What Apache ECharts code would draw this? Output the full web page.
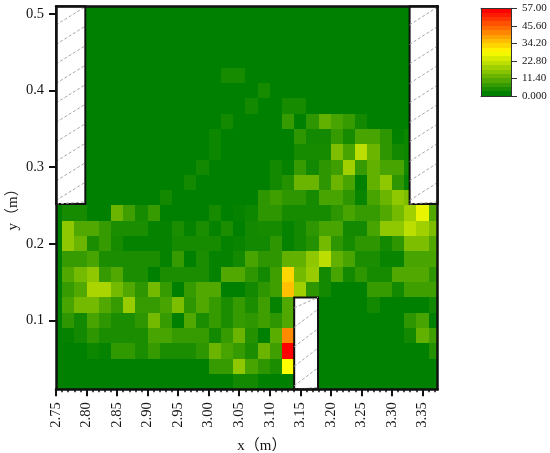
<!DOCTYPE html>
<html>
<head>
<meta charset="utf-8">
<script src="https://cdn.jsdelivr.net/npm/echarts@6/dist/echarts.min.js"></script>
<style>
  html, body { margin: 0; padding: 0; background: #fff; }
  #chart { width: 550px; height: 453px; }
</style>
</head>
<body>
<div id="chart"></div>
<script>
// cell centres; the first and last columns get clipped by the axis range
const xCenters = [2.75, 2.77, 2.79, 2.81, 2.83, 2.85, 2.87, 2.89, 2.91, 2.93, 2.95, 2.97, 2.99, 3.01, 3.03, 3.05, 3.07, 3.09, 3.11, 3.13, 3.15, 3.17, 3.19, 3.21, 3.23, 3.25, 3.27, 3.29, 3.31, 3.33, 3.35, 3.37];
const yCenters = [0.02, 0.04, 0.06, 0.08, 0.10, 0.12, 0.14, 0.16, 0.18, 0.20, 0.22, 0.24, 0.26, 0.28, 0.30, 0.32, 0.34, 0.36, 0.38, 0.40, 0.42, 0.44, 0.46, 0.48, 0.50];

// one array per row, bottom row first
const row002 = [0,0,0,0,0,0,0,0,0,0,0,0,0,0,0,2,2,0,0,0,0,0,0,0,0,0,0,0,0,0,0,0];
const row004 = [0,0,0,0,0,0,0,0,0,0,0,0,0,6,6,16,8,5,3,28.5,0,0,0,0,0,0,0,0,0,0,0,0];
const row006 = [0,0,0,1.5,0.5,5.5,5.5,3,6,3,3,3,5,12,8,6,3,12,7,57,0,0,0,0,0,0,0,0,0,0,0,4];
const row008 = [0,0.5,2,5,3,3,3,3,8,8,6,6,6,2,6,12,4,0,10,41.6,0,0,0,0,0,0,0,0,0,2,11,7];
const row010 = [0,5,2,8,5,3,3,5,13,6,0,9,3,6,3,6,5,7,5,9,0,0,0,0,0,0,0,0,0,5,8,0];
const row012 = [0,8,13,13,9,6,17,6,6,8,14,5,9,6,3,6,3,7,0.5,9,0,0,0,0,0,0,2,0,0,0,0,2];
const row014 = [0,6,9,19,19,13,9,5,13,6,0,6,9,9,0,0,2,5,7,35.5,18,5,2,0,0,0,6,6,2,7,7,7];
const row016 = [0,9,13,16,6,9,3,3,0,3,3,3,3,0.5,9,9,5,2,7,33,13,17,2,8,2,5,2.5,2.5,9,9,9,5];
const row018 = [0,6,6,8,3,3,3,3,3,0.5,6,0,3,0.5,0.5,2,8,5,5,11,11,16,21,11,8,3,3,1,1,8,8,8];
const row020 = [0,16,12,3,6,2.5,0.5,0.5,0.5,0.5,2.5,2.5,2.5,2.5,0.5,1,2,2,5,0.5,2,4,13,5,2.5,5,5,2,5,14,14,9];
const row022 = [0,16,9,9,6,3,3,3,0.5,0.5,3,0.5,3,0.5,3,0,2,2.5,2.5,0.5,2,5,8,8,2,2,8,16,16,21,18,14];
const row024 = [0,2.5,2.5,0,0,12,7,2.5,6,0,0,0,0,2.5,0,0.5,1.5,5,5,2.5,2.5,2.5,2.5,5,8,6,6,9,13,18,26,9];
const row026 = [0,0,0,0,0,0,0,0,0,2,0,0,0,0,0,0,0,5,7,5,5,2.5,8,8,5,1,8,12,16,14,0,0];
const row028 = [0,0,0,0,0,0,0,0,0,0,0,2,0,0,0,0,0,0,2,4,12,12,5,12,8,0,11,16,5,1,0,0];
const row030 = [0,0,0,0,0,0,0,0,0,0,0,0,2,0,0,0,0,0,2,0.5,6,2,5,7,18,6,11,8,8,2,0,0];
const row032 = [0,0,0,0,0,0,0,0,0,0,0,0,0,1.5,0,0,0,0,0,0,2.5,2.5,2.5,14,8,21,12,5,2,1.5,0,0];
const row034 = [0,0,0,0,0,0,0,0,0,0,0,0,0,1.5,0,0,0,0,0,0,5,2,2,6,2.5,8,8,5,0.3,1.5,0,0];
const row036 = [0,0,0,0,0,0,0,0,0,0,0,0,0,0,2,0,0,0,0,6,0,5,11,8,6,2,0,0,0,0,0,0];
const row038 = [0,0,0,0,0,0,0,0,0,0,0,0,0,0,0,0,2,0,0,2.5,2.5,0,0,0,0,0,0,0,0,0,0,0];
const row040 = [0,0,0,0,0,0,0,0,0,0,0,0,0,0,0,0,0,2.5,0,0,0,0,0,0,0,0,0,0,0,0,0,0];
const row042 = [0,0,0,0,0,0,0,0,0,0,0,0,0,0,2.5,2.5,0,0,0,0,0,0,0,0,0,0,0,0,0,0,0,0];
const row044 = [0,0,0,0,0,0,0,0,0,0,0,0,0,0,0,0,0,0,0,0,0,0,0,0,0,0,0,0,0,0,0,0];
const row046 = [0,0,0,0,0,0,0,0,0,0,0,0,0,0,0,0,0,0,0,0,0,0,0,0,0,0,0,0,0,0,0,0];
const row048 = [0,0,0,0,0,0,0,0,0,0,0,0,0,0,0,0,0,0,0,0,0,0,0,0,0,0,0,0,0,0,0,0];
const row050 = [0,0,0,0,0,0,0,0,0,0,0,0,0,0,0,0,0,0,0,0,0,0,0,0,0,0,0,0,0,0,0,0];
const rows = [row002, row004, row006, row008, row010, row012, row014, row016, row018, row020, row022, row024, row026, row028, row030, row032, row034, row036, row038, row040, row042, row044, row046, row048, row050];

const xTicks = [2.75, 2.80, 2.85, 2.90, 2.95, 3.00, 3.05, 3.10, 3.15, 3.20, 3.25, 3.30, 3.35];
const yTicks = [0.1, 0.2, 0.3, 0.4, 0.5];

// hatched walls: x0, x1, y0, y1
const wallLeft = [2.75, 2.798, 0.252, 0.51];
const wallRight = [3.329, 3.375, 0.252, 0.51];
const wallMiddle = [3.14, 3.179, 0.01, 0.13];

// colour bar bands: low, high, colour value
const bandEdges = [0, 2.85, 5.7, 8.55, 11.4, 14.25, 17.1, 19.95, 22.8, 25.65, 28.5, 31.35, 34.2, 37.05, 39.9, 42.75, 45.6, 48.45, 51.3, 54.15, 57];
const bandLevels = [0, 3, 6, 9, 12, 15, 18, 21, 24, 27, 30, 33, 36, 39, 42, 45, 48, 51, 54, 57];

const font = '"Liberation Serif", "Noto Sans CJK SC", serif';
const ink = '#151515';

const cellData = [];
rows.forEach((row, j) => row.forEach((v, i) => cellData.push([xCenters[i], yCenters[j], v])));
const bandData = bandLevels.map((lv, i) => [bandEdges[i], bandEdges[i + 1], lv]);

function renderCell(params, api) {
  const a = api.coord([api.value(0) - 0.01, api.value(1) + 0.01]);
  const b = api.coord([api.value(0) + 0.01, api.value(1) - 0.01]);
  const shape = echarts.graphic.clipRectByRect(
    { x: Math.round(a[0]), y: Math.round(a[1]), width: Math.round(b[0]) - Math.round(a[0]), height: Math.round(b[1]) - Math.round(a[1]) },
    params.coordSys
  );
  return shape && { type: 'rect', shape, style: { fill: api.visual('color') } };
}

function renderBand(params, api) {
  const a = api.coord([0, api.value(1)]);
  const b = api.coord([1, api.value(0)]);
  return {
    type: 'rect',
    shape: { x: a[0], y: Math.round(a[1]), width: b[0] - a[0], height: Math.round(b[1]) - Math.round(a[1]) },
    style: { fill: api.visual('color') }
  };
}

function renderWall(params, api) {
  const a = api.coord([api.value(0), api.value(3)]);
  const b = api.coord([api.value(1), api.value(2)]);
  const rect = { x: a[0], y: a[1], width: b[0] - a[0], height: b[1] - a[1] };
  const children = [{ type: 'rect', shape: rect, style: { fill: '#fff', stroke: '#111', lineWidth: 2 } }];
  // diagonal hatch, clipped to the wall
  for (let y = b[1] + 16; y > a[1]; y -= 19.5) {
    const pts = echarts.graphic.clipPointsByRect([[a[0], y], [a[0] + 29, y - 18]], rect);
    children.push({
      type: 'line',
      shape: { x1: pts[0][0], y1: pts[0][1], x2: pts[1][0], y2: pts[1][1] },
      style: { stroke: '#a8a8a8', lineWidth: 1, lineDash: [3, 2] }
    });
  }
  return { type: 'group', children };
}

const chart = echarts.init(document.getElementById('chart'));
chart.setOption({
  animation: false,
  backgroundColor: '#fff',
  textStyle: { fontFamily: font },
  grid: [
    { left: 56, top: 6.3, width: 381.7, height: 383, outerBoundsMode: 'none' },
    { left: 481, top: 8.3, width: 30, height: 87.5, outerBoundsMode: 'none' }
  ],
  visualMap: {
    show: false,
    type: 'continuous',
    seriesIndex: [0, 2],
    dimension: 2,
    min: 0,
    max: 57,
    inRange: { color: ['#008000', '#ffff00', '#ff0000'] }
  },
  xAxis: [
    {
      type: 'value', gridIndex: 0, min: 2.75, max: 3.375, interval: 0.05, z: 5,
      name: 'x（m）', nameLocation: 'middle', nameGap: 49, nameMoveOverlap: false,
      nameTextStyle: { fontFamily: font, fontSize: 15, color: ink, padding: [0, 0, 0, 30] },
      axisLine: { show: true, onZero: false, lineStyle: { color: '#111', width: 2.5 } },
      axisTick: { length: 7, customValues: xTicks, lineStyle: { color: '#111', width: 2 } },
      minorTick: { show: true, splitNumber: 5, length: 3, lineStyle: { color: '#111', width: 1.5 } },
      axisLabel: {
        customValues: xTicks, rotate: 90, margin: 13, fontFamily: font, fontSize: 14.5, color: ink,
        formatter: (v) => v.toFixed(2)
      },
      splitLine: { show: false }
    },
    {
      type: 'value', gridIndex: 0, position: 'top', min: 2.75, max: 3.375, z: 5,
      axisLine: { show: true, onZero: false, lineStyle: { color: '#111', width: 2.5 } },
      axisTick: { show: false }, axisLabel: { show: false }, splitLine: { show: false }
    },
    {
      type: 'value', gridIndex: 1, min: 0, max: 1, z: 5,
      axisLine: { show: true, onZero: false, lineStyle: { color: '#333', width: 1 } },
      axisTick: { show: false }, axisLabel: { show: false }, splitLine: { show: false }
    },
    {
      type: 'value', gridIndex: 1, position: 'top', min: 0, max: 1, z: 5,
      axisLine: { show: true, onZero: false, lineStyle: { color: '#333', width: 1 } },
      axisTick: { show: false }, axisLabel: { show: false }, splitLine: { show: false }
    }
  ],
  yAxis: [
    {
      type: 'value', gridIndex: 0, min: 0.01, max: 0.51, z: 5,
      name: 'y（m）', nameLocation: 'middle', nameGap: 35, nameRotate: 90, nameMoveOverlap: false,
      nameTextStyle: { fontFamily: font, fontSize: 15, color: ink, padding: [0, 16, 0, 0] },
      axisLine: { show: true, onZero: false, lineStyle: { color: '#111', width: 2.5 } },
      axisTick: { length: 7, customValues: yTicks, lineStyle: { color: '#111', width: 2 } },
      axisLabel: {
        customValues: yTicks, margin: 12, fontFamily: font, fontSize: 14.5, color: ink,
        formatter: (v) => v.toFixed(1)
      },
      splitLine: { show: false }
    },
    {
      type: 'value', gridIndex: 0, position: 'right', min: 0.01, max: 0.51, z: 5,
      axisLine: { show: true, onZero: false, lineStyle: { color: '#111', width: 2.5 } },
      axisTick: { show: false }, axisLabel: { show: false }, splitLine: { show: false }
    },
    {
      type: 'value', gridIndex: 1, position: 'right', min: 0, max: 57, interval: 11.4, z: 5,
      axisLine: { show: true, onZero: false, lineStyle: { color: '#333', width: 1 } },
      axisTick: { length: 6, lineStyle: { color: '#333', width: 1 } },
      axisLabel: {
        margin: 11, fontFamily: font, fontSize: 11, color: ink,
        formatter: (v) => (v === 0 ? '0.000' : v.toFixed(2))
      },
      splitLine: { show: false }
    },
    {
      type: 'value', gridIndex: 1, position: 'left', min: 0, max: 57, z: 5,
      axisLine: { show: true, onZero: false, lineStyle: { color: '#333', width: 1 } },
      axisTick: { show: false }, axisLabel: { show: false }, splitLine: { show: false }
    }
  ],
  series: [
    {
      type: 'custom', xAxisIndex: 0, yAxisIndex: 0, data: cellData,
      encode: { x: 0, y: 1 }, renderItem: renderCell, silent: true
    },
    {
      type: 'custom', xAxisIndex: 0, yAxisIndex: 0, z: 3, data: [wallLeft, wallRight, wallMiddle],
      encode: { x: [0, 1], y: [2, 3] }, renderItem: renderWall, silent: true
    },
    {
      type: 'custom', xAxisIndex: 2, yAxisIndex: 2, data: bandData,
      encode: { y: [0, 1] }, renderItem: renderBand, silent: true
    }
  ]
});
</script>
</body>
</html>
